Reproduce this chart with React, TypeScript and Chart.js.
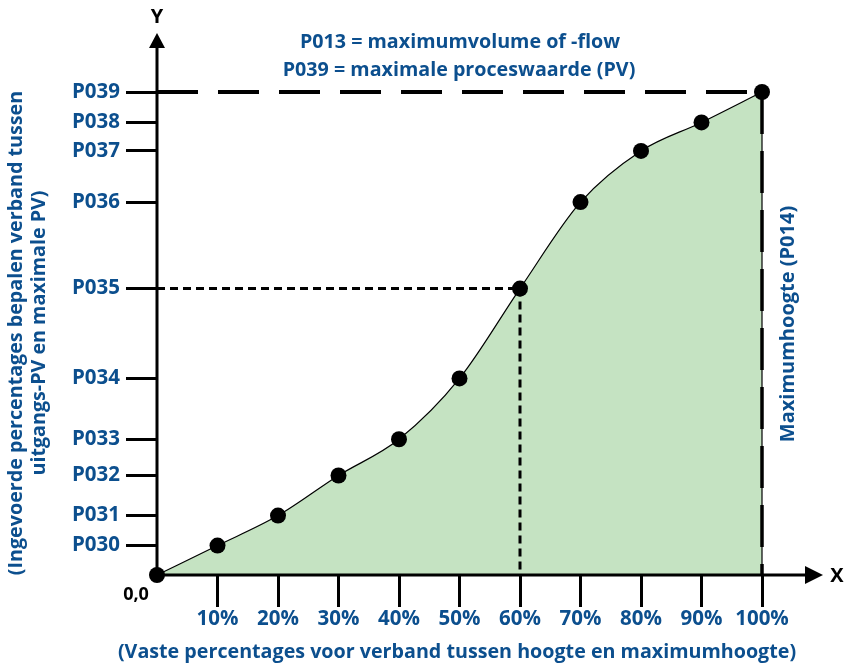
import React, { useEffect, useRef } from 'react';
import { Chart, registerables } from 'chart.js';

Chart.register(...registerables);

// ---- data ----
const xPercents = [0, 10, 20, 30, 40, 50, 60, 70, 80, 90, 100];
const yLevels = [0, 6.1, 12.3, 20.6, 28.1, 40.7, 59.3, 77.2, 87.8, 93.7, 100];
const xTickValues = [10, 20, 30, 40, 50, 60, 70, 80, 90, 100];
const xTickLabels = ['10%', '20%', '30%', '40%', '50%', '60%', '70%', '80%', '90%', '100%'];
const yTickValues = [6.1, 12.3, 20.6, 28.1, 40.7, 59.3, 77.2, 87.8, 93.7, 100];
const yTickLabels = ['P030', 'P031', 'P032', 'P033', 'P034', 'P035', 'P036', 'P037', 'P038', 'P039'];
const markerX = 60;
const markerY = 59.3;
const maxX = 100;
const maxY = 100;

const titleLines = ['P013 = maximumvolume of -flow', 'P039 = maximale proceswaarde (PV)'];
const xTitle = '(Vaste percentages voor verband tussen hoogte en maximumhoogte)';
const yTitleLines = ['(Ingevoerde percentages bepalen verband tussen', 'uitgangs-PV en maximale PV)'];
const rightLabel = 'Maximumhoogte (P014)';
const originLabel = '0,0';

const BLUE = '#0c4f8e';
const GREEN = '#c5e3c2';
const FONT = '"Open Sans", sans-serif';

const points = xPercents.map((x, i) => ({ x, y: yLevels[i] }));

const overlayPlugin = {
  id: 'overlay',
  afterDatasetDraw(chart: any, args: any) {
    if (args.index !== 1) return;
    const ctx = chart.ctx;
    const xs = chart.scales.x;
    const ys = chart.scales.y;
    const x0 = xs.getPixelForValue(0);
    const y0 = ys.getPixelForValue(0);
    const xM = xs.getPixelForValue(maxX);
    const yM = ys.getPixelForValue(maxY);
    const xm = xs.getPixelForValue(markerX);
    const ym = ys.getPixelForValue(markerY);
    ctx.save();
    ctx.strokeStyle = '#000';
    // thin solid edge at 100%
    ctx.lineWidth = 1.2;
    ctx.beginPath();
    ctx.moveTo(xM, yM);
    ctx.lineTo(xM, y0);
    ctx.stroke();
    // long dashes P039
    ctx.lineWidth = 4;
    ctx.setLineDash([41, 20]);
    ctx.beginPath();
    ctx.moveTo(x0, yM);
    ctx.lineTo(xM, yM);
    ctx.stroke();
    ctx.lineWidth = 3.5;
    ctx.setLineDash([42, 17]);
    ctx.beginPath();
    ctx.moveTo(xM, yM);
    ctx.lineTo(xM, y0);
    ctx.stroke();
    // short dashes P035 / 60%
    ctx.lineWidth = 3;
    ctx.setLineDash([8, 5]);
    ctx.beginPath();
    ctx.moveTo(x0, ym);
    ctx.lineTo(xm, ym);
    ctx.stroke();
    ctx.beginPath();
    ctx.moveTo(xm, ym);
    ctx.lineTo(xm, y0);
    ctx.stroke();
    ctx.setLineDash([]);
    // axes with arrows
    ctx.lineWidth = 3;
    ctx.beginPath();
    ctx.moveTo(x0, y0);
    ctx.lineTo(x0, 46);
    ctx.stroke();
    ctx.beginPath();
    ctx.moveTo(x0, y0);
    ctx.lineTo(806, y0);
    ctx.stroke();
    ctx.fillStyle = '#000';
    ctx.beginPath();
    ctx.moveTo(x0, 33);
    ctx.lineTo(x0 - 8, 48);
    ctx.lineTo(x0 + 8, 48);
    ctx.closePath();
    ctx.fill();
    ctx.beginPath();
    ctx.moveTo(823, y0);
    ctx.lineTo(805, y0 - 9);
    ctx.lineTo(805, y0 + 9);
    ctx.closePath();
    ctx.fill();
    ctx.restore();
  },
  afterDraw(chart: any) {
    const ctx = chart.ctx;
    ctx.save();
    ctx.textAlign = 'center';
    ctx.textBaseline = 'middle';
    ctx.fillStyle = '#000';
    ctx.font = `bold 20px ${FONT}`;
    ctx.fillText('Y', 157, 17);
    ctx.fillText('X', 837, 576);
    ctx.font = `bold 18px ${FONT}`;
    ctx.fillText(originLabel, 136, 595);
    ctx.fillStyle = BLUE;
    ctx.font = `bold 19.7px ${FONT}`;
    ctx.fillText(titleLines[0], 460, 42);
    ctx.fillText(titleLines[1], 459, 70);
    ctx.fillText(xTitle, 457, 652);
    ctx.save();
    ctx.translate(16, 333);
    ctx.rotate(-Math.PI / 2);
    ctx.fillText(yTitleLines[0], 0, 0);
    ctx.restore();
    ctx.save();
    ctx.translate(39, 333);
    ctx.rotate(-Math.PI / 2);
    ctx.fillText(yTitleLines[1], 0, 0);
    ctx.restore();
    ctx.save();
    ctx.font = `bold 20px ${FONT}`;
    ctx.translate(788, 324);
    ctx.rotate(-Math.PI / 2);
    ctx.fillText(rightLabel, 0, 0);
    ctx.restore();
    ctx.restore();
  },
};

export default function App() {
  const ref = useRef<HTMLCanvasElement>(null);
  useEffect(() => {
    document.body.style.margin = '0';
    const canvas = ref.current;
    if (!canvas) return;
    const chart = new Chart(canvas, {
      type: 'line',
      data: {
        datasets: [
          {
            data: points,
            showLine: false,
            pointRadius: 8,
            pointHoverRadius: 8,
            pointBackgroundColor: '#000',
            pointBorderWidth: 0,
            clip: false,
          } as any,
          {
            data: points,
            borderColor: '#000',
            borderWidth: 1.2,
            fill: 'origin',
            backgroundColor: GREEN,
            pointRadius: 0,
            cubicInterpolationMode: 'monotone',
            clip: false,
          } as any,
        ],
      },
      options: {
        responsive: false,
        animation: false,
        devicePixelRatio: 1,
        layout: { padding: { left: 0, right: 86, top: 92, bottom: 0 } },
        plugins: { legend: { display: false }, tooltip: { enabled: false } },
        scales: {
          x: {
            type: 'linear',
            min: 0,
            max: maxX,
            afterBuildTicks: (scale: any) => {
              scale.ticks = xTickValues.map((v) => ({ value: v }));
            },
            afterFit: (scale: any) => {
              scale.height = 90;
            },
            border: { display: false },
            grid: { drawOnChartArea: false, drawTicks: true, tickLength: 32, tickWidth: 3, tickColor: '#000' },
            ticks: {
              autoSkip: false,
              maxRotation: 0,
              padding: 0,
              color: BLUE,
              font: { family: FONT, size: 20.5, weight: 'bold' },
              callback: (v: any, i: number) => xTickLabels[i],
            },
          },
          y: {
            type: 'linear',
            min: 0,
            max: maxY,
            afterBuildTicks: (scale: any) => {
              scale.ticks = yTickValues.map((v) => ({ value: v }));
            },
            afterFit: (scale: any) => {
              scale.width = 157;
            },
            border: { display: false },
            grid: { drawOnChartArea: false, drawTicks: true, tickLength: 31, tickWidth: 3, tickColor: '#000' },
            ticks: {
              autoSkip: false,
              padding: 6,
              color: BLUE,
              font: { family: FONT, size: 20.5, weight: 'bold' },
              callback: (v: any, i: number) => yTickLabels[i],
            },
          },
        },
      },
      plugins: [overlayPlugin],
    });
    return () => chart.destroy();
  }, []);
  return (
    <div style={{ width: 848, height: 665 }}>
      <canvas ref={ref} width={848} height={665} style={{ display: 'block' }} />
    </div>
  );
}
